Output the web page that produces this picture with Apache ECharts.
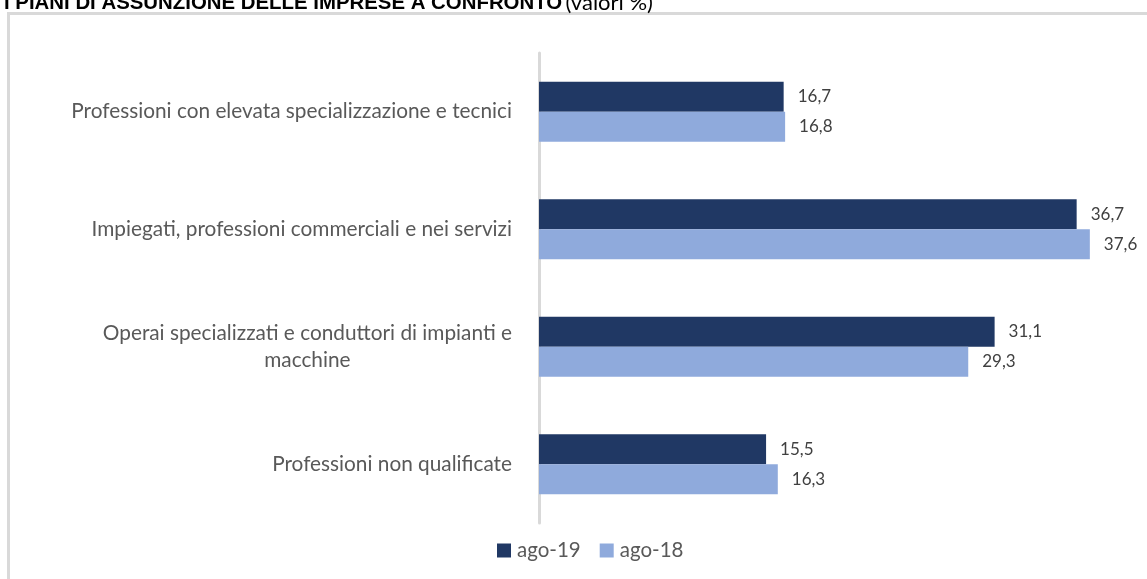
<!DOCTYPE html>
<html>
<head>
<meta charset="utf-8">
<script src="https://cdn.jsdelivr.net/npm/echarts@6/dist/echarts.min.js"></script>
<style>
  html, body { margin: 0; padding: 0; background: #fff; }
  #chart { width: 1147px; height: 579px; }
</style>
</head>
<body>
<div id="chart"></div>
<script>
// categorie (dal basso verso l'alto come in Excel)
const categories = [
  'Professioni non qualificate',
  'Operai specializzati e conduttori di impianti e\nmacchine',
  'Impiegati, professioni commerciali e nei servizi',
  'Professioni con elevata specializzazione e tecnici'
]
const seriesNames = ['ago-19', 'ago-18']
const ago19 = [15.5, 31.1, 36.7, 16.7]
const ago18 = [16.3, 29.3, 37.6, 16.8]
const colors = ['#203864', '#8FAADC']

const myChart = echarts.init(document.getElementById('chart'))

const fontFam = 'Lato, "Liberation Sans", sans-serif'

const makeSeries = (name, data, color) => {
  return {
    name: name,
    type: 'bar',
    data: data,
    barWidth: 30,
    barGap: '0%',
    itemStyle: { color: color },
    label: {
      show: true,
      position: 'right',
      distance: 14,
      color: '#404040',
      fontSize: 17,
      fontFamily: fontFam,
      formatter: p => p.value.toFixed(1).replace('.', ',')
    }
  }
}

myChart.setOption({
  animation: false,
  textStyle: { fontFamily: fontFam },
  graphic: [
    {
      type: 'rect',
      shape: { x: 8.5, y: 13.5, width: 1200, height: 700 },
      style: { fill: 'none', stroke: '#D9D9D9', lineWidth: 3 },
      z: -1
    },
    {
      type: 'text',
      left: 4,
      top: -8,
      style: {
        text: '{b|I PIANI DI ASSUNZIONE DELLE IMPRESE A CONFRONTO} {n|(valori %)}',
        rich: {
          b: { fontSize: 20.4, fontWeight: 'bold', fill: '#000', fontFamily: '"Liberation Sans", sans-serif' },
          n: { fontSize: 22, fill: '#000', fontFamily: fontFam }
        }
      }
    }
  ],
  legend: {
    top: 535,
    left: 492,
    itemWidth: 14,
    itemHeight: 14,
    itemGap: 19,
    icon: 'rect',
    textStyle: { color: '#595959', fontSize: 20.5, fontFamily: fontFam, padding: [0, 0, 0, 1] },
    data: seriesNames
  },
  grid: {
    left: 539,
    right: 22,
    top: 53,
    height: 470,
    containLabel: false
  },
  xAxis: {
    type: 'value',
    min: 0,
    max: 40,
    show: false
  },
  yAxis: {
    type: 'category',
    data: categories,
    axisLine: { show: true, lineStyle: { color: '#D9D9D9', width: 3 } },
    axisTick: { show: false },
    axisLabel: {
      margin: 27,
      color: '#595959',
      fontSize: 20.8,
      fontFamily: fontFam,
      lineHeight: 27,
      formatter: v => v.indexOf('\n') >= 0 ? '{c|' + v + '}' : v,
      rich: {
        c: { align: 'center', fontSize: 20.8, color: '#595959', lineHeight: 27, fontFamily: fontFam }
      }
    }
  },
  series: [
    makeSeries(seriesNames[0], ago19, colors[0]),
    makeSeries(seriesNames[1], ago18, colors[1])
  ]
})
</script>
</body>
</html>
